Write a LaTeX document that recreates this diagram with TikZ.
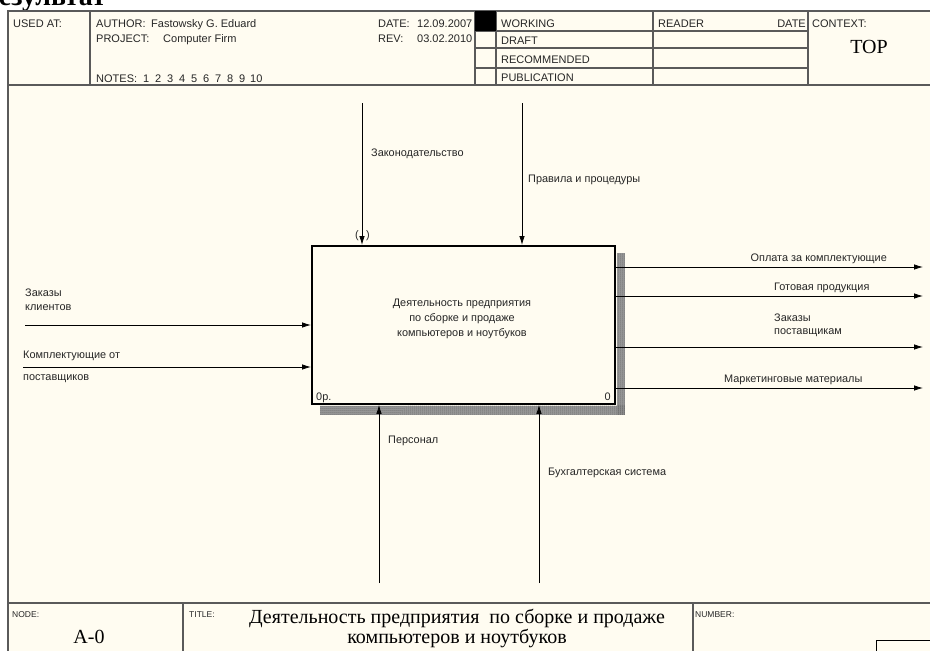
\documentclass[tikz,border=0pt]{standalone}
\usepackage{fontspec}
\setmainfont{Liberation Serif}
\setsansfont{Liberation Sans}
\usetikzlibrary{arrows.meta,patterns.meta}

\definecolor{paper}{HTML}{FFFCF1}
\definecolor{rule}{HTML}{5A5A5A}

\tikzset{
  hdr/.style={font=\sffamily\fontsize{11}{13}\selectfont, text=black!85, inner sep=0pt, anchor=base west},
  lbl/.style={font=\sffamily\fontsize{10.9}{13}\selectfont, text=black!85, inner sep=0pt, anchor=base west},
  big/.style={font=\fontsize{20}{23}\selectfont, inner sep=0pt, anchor=base},
  small/.style={font=\sffamily\fontsize{8.5}{10}\selectfont, text=black!85, inner sep=0pt, anchor=base west},
  arr/.style={-{Latex[length=9pt,width=5.5pt]}, line width=0.8pt},
  frm/.style={draw=rule, line width=1.3pt},
  shadow/.style={fill=black!38},
  shadowdots/.style={pattern={Dots[distance=2pt, radius=0.5pt]}, pattern color=black!80},
}

\begin{document}
\begin{tikzpicture}[x=1pt,y=-1pt]
    \useasboundingbox (0,0) rectangle (930,651);
    \fill[white] (0,0) rectangle (930,651);

    % обрезанный заголовок сверху
    \begin{scope}
      \clip (0,0) rectangle (930,10);
      \node[font=\bfseries\fontsize{28}{30}\selectfont, anchor=base west, inner sep=0pt] (result) at (-18,5) {Результат};
    \end{scope}

    % рамка
    \fill[paper] (8,11) rectangle (940,660);
    \draw[frm] (940,11) -- (8,11) -- (8,660);
    \draw[frm] (8,85) -- (940,85);
    \draw[frm] (90,11) -- (90,85);
    \draw[frm] (475,11) -- (475,85);
    \draw[frm] (496,11) -- (496,85);
    \draw[frm] (653,11) -- (653,85);
    \draw[frm] (808,11) -- (808,85);
    \draw[frm] (475,31) -- (808,31);
    \draw[frm] (475,48) -- (808,48);
    \draw[frm] (475,68) -- (808,68);
    \fill[black] (475,11) rectangle (496,31);

    % шапка
    \node[hdr] (usedat) at (13,27) {USED AT:};
    \node[hdr] (author) at (96,27) {AUTHOR:};
    \node[hdr] (authorname) at (151,27) {Fastowsky G. Eduard};
    \node[hdr] (project) at (96,42) {PROJECT:};
    \node[hdr] (projectname) at (163,42) {Computer Firm};
    \node[hdr] (notes) at (96,82) {NOTES:};
    \foreach \n in {1,...,9}
      \node[hdr] (note\n) at ({131+12*\n},82) {\n};
    \node[hdr] (note10) at (250,82) {10};
    \node[hdr] (date) at (378,27) {DATE:};
    \node[hdr] (dateval) at (417,27) {12.09.2007};
    \node[hdr] (rev) at (378,42) {REV:};
    \node[hdr] (revval) at (417,42) {03.02.2010};
    \node[hdr] (working) at (501,27) {WORKING};
    \node[hdr] (draft) at (501,44) {DRAFT};
    \node[hdr] (recom) at (501,63) {RECOMMENDED};
    \node[hdr] (public) at (501,81) {PUBLICATION};
    \node[hdr] (reader) at (658,27) {READER};
    \node[hdr, anchor=base east] (readerdate) at (806,27) {DATE};
    \node[hdr] (context) at (812,27) {CONTEXT:};
    \node[big] (top) at (869,53) {TOP};

    % подвал
    \draw[frm] (8,603) -- (940,603);
    \draw[frm] (183,603) -- (183,660);
    \draw[frm] (693,603) -- (693,660);
    \draw[line width=1pt] (876,660) -- (876,640) -- (940,640);
    \node[small] (nodelbl) at (12,617) {NODE:};
    \node[big] (nodeval) at (89,643) {A-0};
    \node[small] (titlelbl) at (189,617) {TITLE:};
    \node[big] (title1) at (457,623) {Деятельность предприятия\ \ по сборке и продаже};
    \node[big] (title2) at (457,643) {компьютеров и ноутбуков};
    \node[small] (numberlbl) at (695,617) {NUMBER:};

    % блок
    \node[draw, line width=1.8pt, minimum width=303pt, minimum height=158pt, anchor=north west, inner sep=0pt] (act) at (311,245) {};
    \fill[shadow] ([xshift=0.9pt,yshift=-8pt]act.north east) rectangle ([xshift=9pt,yshift=-10pt]act.south east);
    \fill[shadow] ([xshift=9pt,yshift=-0.9pt]act.south west) rectangle ([xshift=9pt,yshift=-10pt]act.south east);
    \fill[shadowdots] ([xshift=0.9pt,yshift=-8pt]act.north east) rectangle ([xshift=9pt,yshift=-10pt]act.south east);
    \fill[shadowdots] ([xshift=9pt,yshift=-0.9pt]act.south west) rectangle ([xshift=9pt,yshift=-10pt]act.south east);
    \node[lbl, anchor=base] (acttext1) at (462,306) {Деятельность предприятия};
    \node[lbl, anchor=base] (acttext2) at (462,321) {по сборке и продаже};
    \node[lbl, anchor=base] (acttext3) at (462,336) {компьютеров и ноутбуков};
    \node[lbl, anchor=base west] (actnum) at ([xshift=5pt,yshift=4pt]act.south west) {0р.};
    \node[lbl, anchor=base east] (actzero) at ([xshift=-5pt,yshift=4pt]act.south east) {0};

    % управление
    \coordinate (lawin) at (362,103);
    \coordinate (rulesin) at (522,103);
    \draw[arr] (lawin) -- (lawin |- act.north);
    \draw[arr] (rulesin) -- (rulesin |- act.north);
    \node[lbl] (lawlbl) at (371,156) {Законодательство};
    \node[lbl] (ruleslbl) at (528,182) {Правила и процедуры};
    \node[lbl, anchor=center] (tunl) at (357,236) {(};
    \node[lbl, anchor=center] (tunr) at (368,236) {)};

    % входы
    \coordinate (ordersin) at (25,325);
    \coordinate (partsin) at (23,367);
    \draw[arr] (ordersin) -- (ordersin -| act.west);
    \draw[arr] (partsin) -- (partsin -| act.west);
    \node[lbl] (orderslbl1) at (25,296) {Заказы};
    \node[lbl] (orderslbl2) at (25,310) {клиентов};
    \node[lbl] (partslbl1) at (23,358) {Комплектующие от};
    \node[lbl] (partslbl2) at (23,380) {поставщиков};

    % выходы
    \coordinate (payout) at (923,267);
    \coordinate (goodsout) at (923,296);
    \coordinate (supout) at (923,347);
    \coordinate (mktout) at (923,388);
    \draw[arr] (payout -| act.east) -- (payout);
    \draw[arr] (goodsout -| act.east) -- (goodsout);
    \draw[arr] (supout -| act.east) -- (supout);
    \draw[arr] (mktout -| act.east) -- (mktout);
    \node[lbl, anchor=base east] (paylbl) at (887,261) {Оплата за комплектующие};
    \node[lbl] (goodslbl) at (774,290) {Готовая продукция};
    \node[lbl] (suplbl1) at (774,321) {Заказы};
    \node[lbl] (suplbl2) at (774,334) {поставщикам};
    \node[lbl] (mktlbl) at (724,382) {Маркетинговые материалы};

    % механизмы
    \coordinate (staffin) at (379,583);
    \coordinate (acctin) at (539,583);
    \draw[arr] (staffin) -- (staffin |- act.south);
    \draw[arr] (acctin) -- (acctin |- act.south);
    \node[lbl] (stafflbl) at (388,443) {Персонал};
    \node[lbl] (acctlbl) at (548,475) {Бухгалтерская система};
\end{tikzpicture}
\end{document}
